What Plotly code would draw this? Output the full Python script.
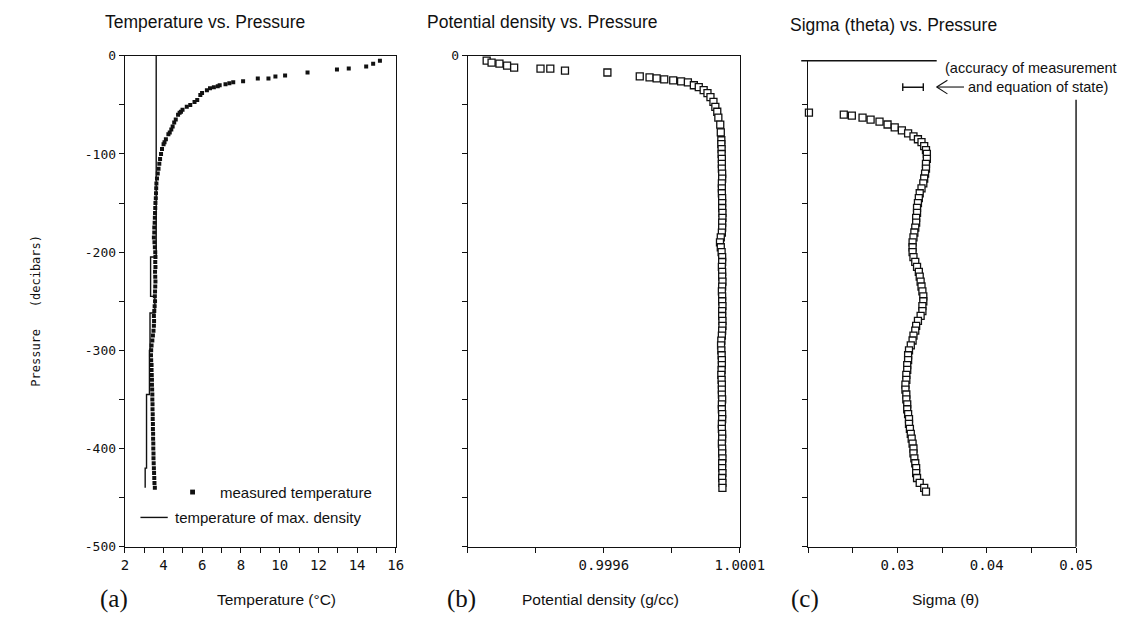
import plotly.graph_objects as go

W, H = 1142, 624

# ---------------- data ----------------
# (a) measured temperature (deg C) vs pressure (decibars)
temp_p = [-5, -8, -11, -13, -14, -17, -20, -21, -23, -23, -26, -27, -28, -29, -30, -31, -32, -33,
          -35, -38, -40, -45, -47, -50, -52, -55, -57, -58, -60, -65, -68, -72, -75, -78, -80,
          -85, -88,
          -90, -95, -100, -105, -110, -115, -120, -125, -130, -135, -140, -145, -150, -155, -160,
          -165, -170, -175, -180, -185, -190, -195, -200, -205, -210, -215, -220, -225, -230,
          -235, -240, -245, -250, -255, -260, -265, -270, -275, -280, -285, -290, -295, -300,
          -305, -310, -315, -320, -325, -330, -335, -340, -345, -350, -355, -360, -365, -370,
          -375, -380, -385, -390, -395, -400, -405, -410, -415, -420, -425, -430, -435, -440]
temp_t = [15.18, 14.83, 14.47, 13.57, 12.96, 11.44, 10.28, 9.78, 9.42, 8.87, 8.11, 7.6, 7.40, 7.2,
          6.90, 6.8, 6.60, 6.4, 6.24, 5.99, 5.9, 5.74, 5.6, 5.38, 5.2, 4.98, 4.9, 4.83, 4.75, 4.63,
          4.55, 4.47, 4.4, 4.32, 4.25, 4.12, 4.05,
          4.00, 3.92, 3.87, 3.82, 3.78, 3.74, 3.70, 3.66, 3.63, 3.62, 3.61, 3.60, 3.58, 3.57, 3.56,
          3.55, 3.54, 3.52, 3.52, 3.50, 3.53, 3.55, 3.57, 3.58, 3.57, 3.58, 3.56, 3.57, 3.58,
          3.57, 3.56, 3.55, 3.56, 3.54, 3.52, 3.50, 3.51, 3.50, 3.48, 3.45, 3.42, 3.38, 3.36,
          3.35, 3.36, 3.38, 3.38, 3.39, 3.40, 3.40, 3.41, 3.42, 3.42, 3.43, 3.43, 3.44, 3.44,
          3.45, 3.45, 3.46, 3.46, 3.47, 3.47, 3.48, 3.48, 3.49, 3.50, 3.51, 3.52, 3.53, 3.55]

# (a) temperature of maximum density (stepped line)
tmd_p = [0, -205, -245, -262, -300, -345, -420, -440]
tmd_t = [3.62, 3.33, 3.55, 3.30, 3.27, 3.12, 3.05, 3.05]

# (b) potential density (g/cc) vs pressure
dens_p = [-5, -7, -8, -10, -12, -13, -13, -15, -17, -21, -22, -23, -24, -25, -26, -27, -30, -32,
          -35, -38, -42, -47, -52, -57, -63, -70, -78, -86,
          -90, -95, -100, -105, -110, -115, -120, -125, -130, -135, -140, -145, -150, -155, -160,
          -165, -170, -175, -180, -185, -190, -195, -200, -205, -210, -215, -220, -225, -230,
          -235, -240, -245, -250, -255, -260, -265, -270, -275, -280, -285, -290, -295, -300,
          -305, -310, -315, -320, -325, -330, -335, -340, -345, -350, -355, -360, -365, -370,
          -375, -380, -385, -390, -395, -400, -405, -410, -415, -420, -425, -430, -435, -440]
dens_v = [0.999169, 0.999187, 0.999216, 0.999244, 0.999270, 0.999367, 0.999403, 0.999457,
          0.999613, 0.999732, 0.999768, 0.999794, 0.999822, 0.999855, 0.999884, 0.999909,
          0.999931, 0.999949, 0.999967, 0.999981, 0.999992, 1.000003, 1.000010, 1.000017,
          1.000021, 1.000028, 1.000030, 1.000032,
          1.000032, 1.000033, 1.000033, 1.000034, 1.000034, 1.000034, 1.000035, 1.000035,
          1.000034, 1.000034, 1.000034, 1.000035, 1.000035, 1.000035, 1.000036, 1.000036,
          1.000035, 1.000035, 1.000034, 1.000030, 1.000027, 1.000030, 1.000033, 1.000035,
          1.000035, 1.000034, 1.000035, 1.000035, 1.000036, 1.000035, 1.000034, 1.000035,
          1.000035, 1.000036, 1.000035, 1.000035, 1.000036, 1.000036, 1.000035, 1.000034,
          1.000032, 1.000031, 1.000032, 1.000033, 1.000034, 1.000034, 1.000033, 1.000032,
          1.000033, 1.000034, 1.000034, 1.000034, 1.000035, 1.000034, 1.000034, 1.000035,
          1.000035, 1.000034, 1.000034, 1.000035, 1.000035, 1.000034, 1.000035, 1.000035,
          1.000036, 1.000035, 1.000035, 1.000036, 1.000035, 1.000036, 1.000036]

# (c) sigma(theta) vs pressure
sig_p = [-58, -60, -61, -63, -65, -67, -70, -73, -76, -79, -82, -85, -88, -92, -96,
         -100, -105, -110, -115, -120, -125, -130, -135, -140, -145, -150, -155, -160, -165,
         -170, -175, -180, -185, -190, -195, -200, -205, -210, -215, -220, -225, -230, -235,
         -240, -245, -250, -255, -260, -265, -270, -275, -280, -285, -290, -295, -300, -305,
         -310, -315, -320, -325, -330, -335, -340, -345, -350, -355, -360, -365, -370, -375,
         -380, -385, -390, -395, -400, -405, -410, -415, -420, -425, -430, -435, -440, -444]
sig_v = [0.0201, 0.0240, 0.0249, 0.0261, 0.0270, 0.0280, 0.0289, 0.0297, 0.0305, 0.0312,
         0.0318, 0.0323, 0.0327, 0.0330, 0.0332,
         0.0333, 0.0333, 0.0332, 0.0332, 0.0331, 0.0330, 0.0329, 0.0327, 0.0325, 0.0324,
         0.0323, 0.0322, 0.0322, 0.0321, 0.0321, 0.0320, 0.0319, 0.0318, 0.0317, 0.0317,
         0.0317, 0.0318, 0.0320, 0.0322, 0.0324, 0.0325, 0.0326, 0.0327, 0.0328, 0.0329,
         0.0329, 0.0328, 0.0328, 0.0326, 0.0323, 0.0321, 0.0320, 0.0318, 0.0317, 0.0315,
         0.0313, 0.0312, 0.0312, 0.0311, 0.0311, 0.0310, 0.0310, 0.0309, 0.0309, 0.0310,
         0.0310, 0.0311, 0.0311, 0.0312, 0.0313, 0.0313, 0.0314, 0.0315, 0.0316, 0.0317,
         0.0318, 0.0318, 0.0319, 0.0320, 0.0321, 0.0321, 0.0322, 0.0325, 0.0330, 0.0332]

# accuracy bar in (c)
acc_center = 0.03175
acc_half = 0.00115
acc_p = -32

# axis ticks
p_ticks = list(range(0, -501, -50))
a_xticks = list(range(2, 17))
b_xticks = [0.9991, 0.99935, 0.9996, 0.99985, 1.0001]
b_xlabels = ["", "", "0.9996", "", "1.0001"]
c_xticks = [0.02, 0.025, 0.03, 0.035, 0.04, 0.045, 0.05]
c_xlabels = ["", "", "0.03", "", "0.04", "", "0.05"]

# ---------------- helpers ----------------
def px(x):
    return x / W

def py(y):
    return 1 - y / H

SANS = "Liberation Sans, Arial, sans-serif"
MONO = "DejaVu Sans Mono, monospace"
SERIF = "Liberation Serif, Times New Roman, serif"
BLACK = "#111111"

fig = go.Figure()

# (a)
fig.add_trace(go.Scatter(x=tmd_t, y=tmd_p, mode="lines", line=dict(color=BLACK, width=1.4, shape="vh"),
                         xaxis="x", yaxis="y", showlegend=False))
fig.add_trace(go.Scatter(x=temp_t, y=temp_p, mode="markers",
                         marker=dict(symbol="square", size=4, color=BLACK, line=dict(width=0)),
                         xaxis="x", yaxis="y", showlegend=False))
# (b)
fig.add_trace(go.Scatter(x=dens_v, y=dens_p, mode="markers",
                         marker=dict(symbol="square", size=7, color="white", line=dict(width=1.3, color=BLACK)),
                         xaxis="x2", yaxis="y2", showlegend=False))
# (c)
fig.add_trace(go.Scatter(x=sig_v, y=sig_p, mode="markers",
                         marker=dict(symbol="square", size=7, color="white", line=dict(width=1.3, color=BLACK)),
                         xaxis="x3", yaxis="y3", showlegend=False, cliponaxis=False))

ydom = [py(553), py(50)]
axis_common = dict(showgrid=False, zeroline=False, showline=True, linecolor=BLACK, linewidth=1.4,
                   ticks="outside", ticklen=5, tickwidth=1.2, tickcolor=BLACK)
xfont = dict(family=MONO, size=14, color=BLACK)
yfont = dict(family=MONO, size=13, color=BLACK)

a_xlabels = [str(v) if v % 2 == 0 else "" for v in a_xticks]
a_ylabels = [str(v) if v % 100 == 0 else "" for v in p_ticks]
b_ylabels = ["0" if v == 0 else "" for v in p_ticks]

fig.update_layout(
    width=W, height=H, margin=dict(l=0, r=0, t=0, b=0),
    paper_bgcolor="white", plot_bgcolor="white", showlegend=False,
    xaxis=dict(domain=[px(124), px(402)], range=[2, 16], tickmode="array", tickvals=a_xticks,
               ticktext=a_xlabels, mirror=True, anchor="y", tickfont=xfont, **axis_common),
    yaxis=dict(domain=ydom, range=[-500, 0], tickmode="array", tickvals=p_ticks, ticktext=a_ylabels,
               mirror=True, anchor="x", tickfont=yfont, **axis_common),
    xaxis2=dict(domain=[px(476), px(755)], range=[0.9991, 1.0001], tickmode="array", tickvals=b_xticks,
                ticktext=b_xlabels, mirror=True, anchor="y2", tickfont=xfont, **axis_common),
    yaxis2=dict(domain=ydom, range=[-500, 0], tickmode="array", tickvals=p_ticks, ticktext=b_ylabels,
                mirror=True, anchor="x2", tickfont=yfont, **axis_common),
    xaxis3=dict(domain=[px(825), px(1100)], range=[0.02, 0.05], tickmode="array", tickvals=c_xticks,
                ticktext=c_xlabels, mirror=False, anchor="y3", tickfont=xfont, **axis_common),
    yaxis3=dict(domain=[py(553), py(55)], range=[-500, -5], tickmode="array", tickvals=p_ticks[1:],
                ticktext=["" for _ in p_ticks[1:]], mirror=False, anchor="x3", tickfont=yfont, **axis_common),
)

shapes = []
line_style = dict(color=BLACK, width=1.4)
# (c) partial top and right borders
shapes.append(dict(type="line", xref="paper", yref="paper", x0=px(818), x1=px(957), y0=py(55), y1=py(55), line=line_style))
shapes.append(dict(type="line", xref="paper", yref="paper", x0=px(1100), x1=px(1100), y0=py(95), y1=py(553), line=line_style))
# accuracy bar
shapes.append(dict(type="line", xref="x3", yref="y3", x0=acc_center - acc_half, x1=acc_center + acc_half,
                   y0=acc_p, y1=acc_p, line=line_style))
for xe in (acc_center - acc_half, acc_center + acc_half):
    shapes.append(dict(type="line", xref="x3", yref="y3", x0=xe, x1=xe, y0=acc_p - 4, y1=acc_p + 4, line=line_style))
# arrow
shapes.append(dict(type="line", xref="paper", yref="paper", x0=px(957), x1=px(985), y0=py(82), y1=py(82), line=dict(color=BLACK, width=1.1)))
shapes.append(dict(type="line", xref="paper", yref="paper", x0=px(957), x1=px(968), y0=py(82), y1=py(75), line=dict(color=BLACK, width=1.1)))
shapes.append(dict(type="line", xref="paper", yref="paper", x0=px(957), x1=px(968), y0=py(82), y1=py(89), line=dict(color=BLACK, width=1.1)))
# legend symbols in (a)
shapes.append(dict(type="rect", xref="paper", yref="paper", x0=px(191), x1=px(196), y0=py(499.5), y1=py(494.5),
                   fillcolor=BLACK, line=dict(width=0)))
shapes.append(dict(type="line", xref="paper", yref="paper", x0=px(140), x1=px(168), y0=py(523), y1=py(523), line=line_style))
fig.update_layout(shapes=shapes)

def ann(text, x, y, size, family=SANS, xanchor="left", angle=0):
    return dict(text=text, x=px(x), y=py(y), xref="paper", yref="paper", showarrow=False,
                xanchor=xanchor, yanchor="middle", textangle=angle,
                font=dict(family=family, size=size, color=BLACK))

annotations = [
    ann("Temperature vs. Pressure", 102, 15, 17.5),
    ann("Potential density vs. Pressure", 432, 15, 17.5),
    ann("Sigma (theta) vs. Pressure", 804, 18, 17.5),
    ann("Pressure   (decibars)", 32, 311, 12, family=MONO, angle=-90, xanchor="center"),
    ann("measured temperature", 220, 497, 15),
    ann("temperature of max. density", 173, 523, 15),
    ann("(accuracy of measurement", 963, 63, 14.5),
    ann("and equation of state)", 987, 82, 14.5),
    ann("(a)", 113, 607, 25, family=SERIF, xanchor="center"),
    ann("Temperature (°C)", 280, 607, 15.5, xanchor="center"),
    ann("(b)", 469, 607, 25, family=SERIF, xanchor="center"),
    ann("Potential density (g/cc)", 612, 607, 15.5, xanchor="center"),
    ann("(c)", 822, 607, 25, family=SERIF, xanchor="center"),
    ann("Sigma (θ)", 966, 607, 15.5, xanchor="center"),
]
fig.update_layout(annotations=annotations)

fig.write_html("out.html")
